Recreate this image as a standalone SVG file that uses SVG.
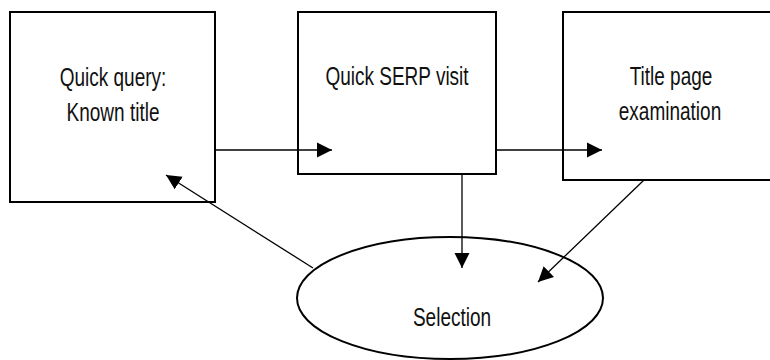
<svg xmlns="http://www.w3.org/2000/svg" width="770" height="360" viewBox="0 0 770 360">
  <style>
    .box { fill: #ffffff; stroke: #000000; stroke-width: 2; }
    .edge { fill: none; stroke: #000000; stroke-width: 1.3; marker-end: url(#arrow); }
    .label { font-family: "Liberation Sans", Arial, sans-serif; font-size: 19px; fill: #111111; text-anchor: middle; }
  </style>
  <defs>
    <marker id="arrow" markerUnits="userSpaceOnUse" markerWidth="16" markerHeight="16" viewBox="0 0 16 16" refX="15" refY="8" orient="auto">
      <path d="M0,0.5 L15,8 L0,15.5 Z" fill="#000000"/>
    </marker>
  </defs>

  <rect width="770" height="360" fill="#ffffff"/>

  <g id="node-quick-query">
    <rect class="box" x="10" y="12" width="205" height="190"/>
    <text class="label" transform="translate(113,86) scale(1,1.35)">Quick query:</text>
    <text class="label" transform="translate(113,121) scale(1,1.35)">Known title</text>
  </g>

  <g id="node-serp-visit">
    <rect class="box" x="298" y="12" width="198" height="162"/>
    <text class="label" transform="translate(397,85) scale(1,1.35)">Quick SERP visit</text>
  </g>

  <g id="node-title-page">
    <rect class="box" x="563" y="12" width="215" height="168"/>
    <text class="label" transform="translate(671,85) scale(1,1.35)">Title page</text>
    <text class="label" transform="translate(670,120) scale(1,1.35)">examination</text>
  </g>

  <g id="node-selection">
    <ellipse class="box" cx="450" cy="298" rx="153" ry="61"/>
    <text class="label" transform="translate(452,326) scale(1,1.35)">Selection</text>
  </g>

  <g id="connectors">
    <line class="edge" x1="215" y1="150" x2="332" y2="150"/>
    <line class="edge" x1="496" y1="150" x2="602" y2="150"/>
    <line class="edge" x1="462" y1="174" x2="462" y2="268"/>
    <line class="edge" x1="644" y1="180" x2="538" y2="282"/>
    <line class="edge" x1="313" y1="268" x2="166" y2="175"/>
  </g>
</svg>
